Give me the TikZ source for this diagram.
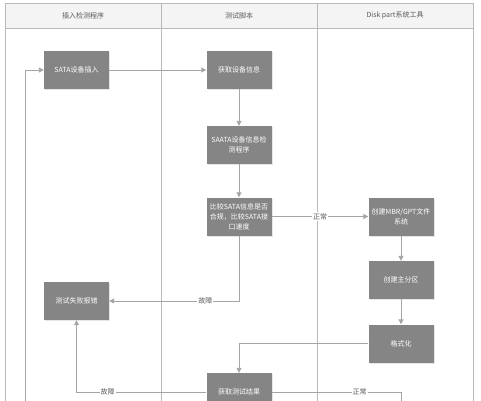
\documentclass[tikz,border=0pt]{standalone}
\usepackage{fontspec}
\setmainfont{Noto Sans CJK SC}
\usetikzlibrary{arrows.meta,shadows}

\definecolor{boxgray}{RGB}{133,133,133}
\definecolor{linegray}{RGB}{165,165,165}
\definecolor{lanegray}{RGB}{185,185,185}
\definecolor{textgray}{RGB}{90,90,90}

\begin{document}
\begin{tikzpicture}[x=1pt, y=-1pt, >={Triangle[width=5pt,length=5pt]},
  box/.style={fill=boxgray, text=white, minimum width=65pt, minimum height=38pt,
    align=center, inner sep=1pt, font=\fontsize{7}{10}\selectfont,
    drop shadow={opacity=0.2, shadow xshift=1pt, shadow yshift=-1pt}},
  link/.style={draw=linegray, line width=0.9pt, ->},
  tag/.style={fill=white, text=textgray, inner sep=1pt, font=\fontsize{7}{8}\selectfont},
  head/.style={text=textgray, font=\fontsize{7}{8}\selectfont}]
  \clip (0,0) rectangle (481,400);

  % Swimlanes
  \fill[gray!9] (5,3) rectangle (473,28);
  \draw[lanegray, line width=0.8pt] (5,3) rectangle (473,430);
  \draw[lanegray, line width=0.8pt] (5,28) -- (473,28);
  \draw[lanegray, line width=0.8pt] (161,3) -- (161,430);
  \draw[lanegray, line width=0.8pt] (317,3) -- (317,430);
  \node[head] (lane1) at (83,15.5) {插入检测程序};
  \node[head] (lane2) at (239,15.5) {测试脚本};
  \node[head] (lane3) at (395,15.5) {Disk part系统工具};

  % Steps
  \node[box] (ins) at (76.5,70) {SATA设备插入};
  \node[box] (fail) at (76.5,301) {测试失败报错};
  \node[box] (getinfo) at (239,70) {获取设备信息};
  \node[box] (check) at (239,145) {SAATA设备信息检\\测程序};
  \node[box] (cmp) at (239,216.5) {比较SATA信息是否\\合规，比较SATA接\\口速度};
  \node[box] (res) at (239,392) {获取测试结果};
  \node[box] (mbr) at (401,216.5) {创建MBR/GPT文件\\系统};
  \node[box] (part) at (401,280) {创建主分区};
  \node[box] (fmt) at (401,343.5) {格式化};

  % Loose ends below the visible part
  \coordinate (loopin) at (25,430);
  \coordinate (okout) at (401,430);

  % Connectors
  \draw[link] (ins) -- (getinfo);
  \draw[link] (getinfo) -- (check);
  \draw[link] (check) -- (cmp);
  \draw[link] (cmp) -- node[tag] {正常} (mbr);
  \draw[link] (cmp.south) |- node[tag, pos=0.63] {故障} (fail.east);
  \draw[link] (mbr) -- (part);
  \draw[link] (part) -- (fmt);
  \draw[link] (fmt.west) -| (res.north);
  \draw[link] (res.west) -| node[tag, pos=0.38] {故障} (fail.south);
  \draw[draw=linegray, line width=0.9pt] (res.east) -| node[tag, pos=0.34] {正常} (okout);
  \draw[link] (loopin) |- (ins.west);
\end{tikzpicture}
\end{document}
